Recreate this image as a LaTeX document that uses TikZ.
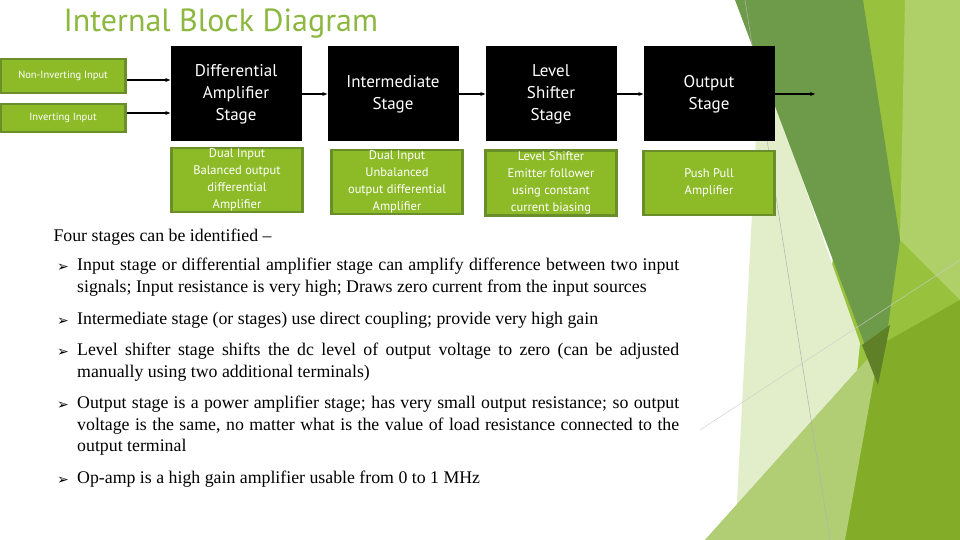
\documentclass[tikz,border=0pt]{standalone}
\usepackage{fontspec}
\setmainfont{Liberation Serif}
\setsansfont{PT Sans}
\newfontfamily\symfont{DejaVu Sans}
\usetikzlibrary{arrows.meta,positioning}

\definecolor{leaf}{HTML}{8DBB28}
\definecolor{leafedge}{HTML}{6A8E2A}
\definecolor{moss}{HTML}{6E9B4A}
\definecolor{titlegreen}{HTML}{8DB840}

\tikzset{
  stage/.style = {fill=black, text=white, minimum width=131, minimum height=95,
                  align=center, font=\sffamily\fontsize{17}{22}\selectfont},
  note/.style  = {fill=leaf, draw=leafedge, line width=2.5, text=white,
                  minimum width=131, minimum height=64, align=center, inner sep=1,
                  font=\sffamily\fontsize{12.5}{17}\selectfont},
  inbox/.style = {fill=leaf, draw=leafedge, line width=2.5, text=white,
                  minimum width=125, align=center,
                  font=\sffamily\fontsize{10.5}{13}\selectfont},
  flow/.style  = {-{Stealth[length=5,width=4]}, line width=1.4},
  item/.style  = {anchor=north west, text width=602, align=justify,
                  font=\fontsize{17.8}{21.5}\selectfont, inner sep=0}
}
\newcommand{\tick}{{\symfont\fontsize{14}{14}\selectfont ➢}}
\hyphenpenalty=10000
\exhyphenpenalty=10000

\begin{document}
\begin{tikzpicture}[x=1pt,y=-1pt]
    \useasboundingbox (0,0) rectangle (960,540);

    % background bands
    \fill[white] (0,0) rectangle (960,540);
    \fill[leaf!90!white] (863,0) -- (960,0) -- (960,540) -- (800,540) -- cycle;
    \fill[leaf!70!white] (905,0) -- (960,0) -- (960,300) -- (900,240) -- cycle;
    \fill[leaf!25!white] (760,60) -- (860,343) -- (840,540) -- (735,540) -- cycle;
    \fill[moss] (735,0) -- (863,0) -- (900,240) -- (880,385) -- cycle;
    \fill[leaf!70!leafedge] (705,540) -- (880,345) -- (960,300) -- (960,540) -- cycle;
    \fill[leaf!40!white, opacity=.6] (705,540) -- (880,345) -- (845,540) -- cycle;
    \fill[leafedge!90!black] (862,345) -- (890,325) -- (878,385) -- cycle;
    \draw[gray!60, line width=.5] (745,0) -- (830,540);
    \draw[gray!40, line width=.4] (700,430) -- (960,260);

    \node[anchor=west, text=titlegreen, font=\sffamily\fontsize{32}{33}\selectfont]
        (title) at (60,24) {Internal Block Diagram};

    % stage blocks
    \node[stage] (diff)  at (236,94)  {Differential\\Amplifier\\Stage};
    \node[stage] (inter) at (393,94)  {Intermediate\\Stage};
    \node[stage] (shift) at (551,94)  {Level\\Shifter\\Stage};
    \node[stage] (out)   at (709,94)  {Output\\Stage};

    \node[note] (diffnote)  at (237,180) {Dual Input\\Balanced output\\differential\\Amplifier};
    \node[note] (internote) at (397,182) {Dual Input\\Unbalanced\\output differential\\Amplifier};
    \node[note] (shiftnote) at (551,183) {Level Shifter\\Emitter follower\\using constant\\current biasing};
    \node[note] (outnote)   at (709,183) {Push Pull\\Amplifier};

    % inputs
    \node[inbox, minimum height=34] (noninv) at (63,76)  {Non-Inverting Input};
    \node[inbox, minimum height=28] (inv)    at (63,118) {Inverting Input};
    \coordinate (end) at (815,94);

    \draw[flow] (noninv.east |- 0,80)  -- (diff.west |- 0,80);
    \draw[flow] (inv.east |- 0,113)    -- (diff.west |- 0,113);
    \draw[flow] (diff)  -- (inter);
    \draw[flow] (inter) -- (shift);
    \draw[flow] (shift) -- (out);
    \draw[flow] (out.east) -- (end);

    % text
    \node[anchor=west, font=\fontsize{17.8}{20}\selectfont] (lead) at (50,237)
        {Four stages can be identified –};
    \foreach \y/\txt in {
        258/{Input stage or differential amplifier stage can amplify difference between two input signals; Input resistance is very high; Draws zero current from the input sources},
        312/{Intermediate stage (or stages) use direct coupling; provide very high gain},
        343/{Level shifter stage shifts the dc level of output voltage to zero (can be adjusted manually using two additional terminals)},
        396/{Output stage is a power amplifier stage; has very small output resistance; so output voltage is the same, no matter what is the value of load resistance connected to the output terminal},
        471/{Op-amp is a high gain amplifier usable from 0 to 1 MHz}} {
      \node[anchor=west, inner sep=0] at (57,\y+10) {\tick};
      \node[item] at (77,\y) {\txt};
    }
\end{tikzpicture}
\end{document}
